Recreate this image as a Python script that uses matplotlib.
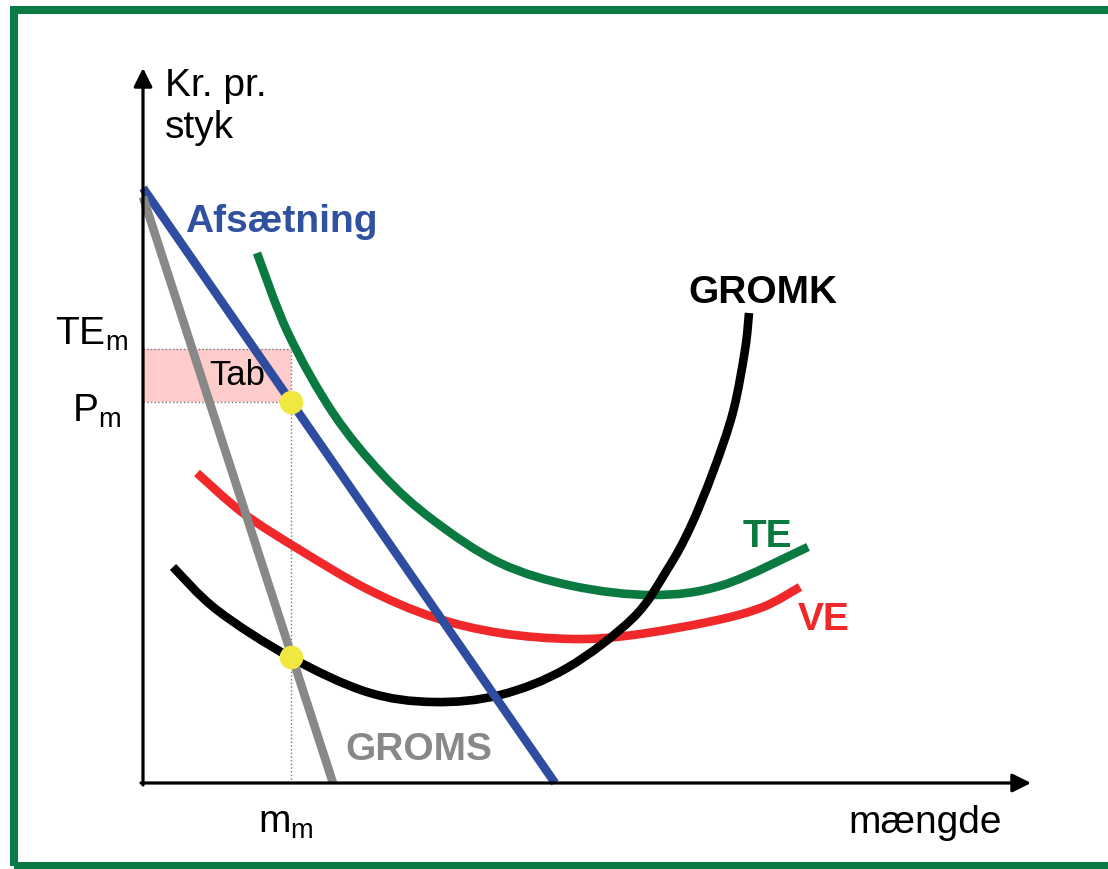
import matplotlib.pyplot as plt
from matplotlib.path import Path
from matplotlib.patches import PathPatch, Rectangle
import numpy as np

plt.rcParams['font.family'] = ['Liberation Sans', 'DejaVu Sans']
plt.rcParams['mathtext.fontset'] = 'custom'
plt.rcParams['mathtext.rm'] = 'Liberation Sans'
plt.rcParams['mathtext.it'] = 'Liberation Sans'

# curves (quantity, kr. pr. styk)
te_x = [1.14, 1.45, 1.90, 2.40, 2.90, 3.57, 4.30, 5.10, 5.80, 6.65]
te_y = [5.30, 4.50, 3.70, 3.08, 2.63, 2.20, 1.97, 1.88, 1.98, 2.36]

ve_x = [0.54, 1.00, 1.57, 2.24, 2.90, 3.57, 4.30, 4.90, 5.70, 6.20, 6.57]
ve_y = [3.10, 2.70, 2.33, 1.94, 1.66, 1.50, 1.44, 1.48, 1.62, 1.76, 1.96]

gromk_x = [0.30, 0.74, 1.47, 2.24, 2.90, 3.57, 4.24, 4.90, 5.24, 5.47, 5.70, 5.90, 6.02, 6.06]
gromk_y = [2.16, 1.73, 1.26, 0.91, 0.81, 0.88, 1.15, 1.65, 2.13, 2.55, 3.11, 3.71, 4.33, 4.70]

afs_x = [0.0, 4.12]
afs_y = [5.95, 0.0]

groms_x = [0.0, 1.90]
groms_y = [5.86, 0.0]

m_m = 1.48
p_m = 3.81
te_m = 4.34
gromk_m = 1.26


def smooth(xs, ys):
    # catmull-rom -> cubic bezier, only for drawing
    pts = np.column_stack([xs, ys])
    verts = [pts[0]]
    codes = [Path.MOVETO]
    for i in range(len(pts) - 1):
        p0 = pts[i - 1] if i > 0 else pts[i]
        p1 = pts[i]
        p2 = pts[i + 1]
        p3 = pts[i + 2] if i + 2 < len(pts) else pts[i + 1]
        c1 = p1 + (p2 - p0) / 6
        c2 = p2 - (p3 - p1) / 6
        verts += [c1, c2, p2]
        codes += [Path.CURVE4] * 3
    return Path(verts, codes)


fig = plt.figure(figsize=(11.08, 8.69), dpi=100)
ax = fig.add_axes([0, 0, 1, 1])
ax.set_xlim(-1.43, 9.65)
ax.set_ylim(-0.86, 7.83)
ax.axis('off')

# frame
ax.add_patch(Rectangle((-1.29, -0.83), 11.5, 8.56, fill=False,
                       edgecolor='#0B7A45', lw=5.8, clip_on=False))

# tab
ax.add_patch(Rectangle((0, p_m), m_m, te_m - p_m, facecolor='#FFCCCC',
                       edgecolor='none', zorder=1))
ax.plot([0, m_m], [te_m, te_m], ls=':', color='#777777', lw=1, zorder=2)
ax.plot([0, m_m], [p_m, p_m], ls=':', color='#777777', lw=1, zorder=2)
ax.plot([m_m, m_m], [0, te_m], ls=':', color='#777777', lw=1, zorder=2)

lw = 6.2
ax.add_patch(PathPatch(smooth(te_x, te_y), fill=False, lw=lw, color='#0B7A40',
                       capstyle='butt', zorder=3))
ax.add_patch(PathPatch(smooth(ve_x, ve_y), fill=False, lw=lw, color='#F0282A',
                       capstyle='butt', zorder=3))
ax.add_patch(PathPatch(smooth(gromk_x, gromk_y), fill=False, lw=lw, color='black',
                       capstyle='butt', zorder=3))
ax.plot(afs_x, afs_y, color='#2E4DA0', lw=lw, solid_capstyle='butt', zorder=4)
ax.plot(groms_x, groms_y, color='#888888', lw=lw, solid_capstyle='butt', zorder=4)

# axes with arrows
ax.annotate('', xy=(0, 7.15), xytext=(0, -0.02),
            arrowprops=dict(arrowstyle='-|>', lw=2.3, color='black',
                            mutation_scale=28, shrinkA=0, shrinkB=0), zorder=5)
ax.annotate('', xy=(8.88, 0), xytext=(-0.02, 0),
            arrowprops=dict(arrowstyle='-|>', lw=2.3, color='black',
                            mutation_scale=28, shrinkA=0, shrinkB=0), zorder=5)

ax.plot([m_m, m_m], [p_m, gromk_m], 'o', color='#F0E840', markersize=17,
        markeredgecolor='none', zorder=6)

fs = 28
ax.text(0.22, 6.87, 'Kr. pr.', fontsize=fs, va='baseline')
ax.text(0.22, 6.45, 'styk', fontsize=fs, va='baseline')
ax.text(7.05, -0.50, 'mængde', fontsize=fs, va='baseline')
ax.text(1.15, -0.50, r'm$_\mathrm{m}$', fontsize=fs, va='baseline')
ax.text(-0.88, 4.38, r'TE$_\mathrm{m}$', fontsize=fs, va='baseline')
ax.text(-0.71, 3.61, r'P$_\mathrm{m}$', fontsize=fs, va='baseline')
ax.text(0.66, 3.98, 'Tab', fontsize=25, va='baseline', zorder=5)

ax.text(0.42, 5.51, 'Afsætning', fontsize=fs, fontweight='bold', color='#3050A0', va='baseline')
ax.text(5.45, 4.80, 'GROMK', fontsize=fs, fontweight='bold', color='black', va='baseline')
ax.text(6.00, 2.36, 'TE', fontsize=fs, fontweight='bold', color='#0B7A40', va='baseline')
ax.text(6.55, 1.53, 'VE', fontsize=fs, fontweight='bold', color='#F0282A', va='baseline')
ax.text(2.02, 0.23, 'GROMS', fontsize=fs, fontweight='bold', color='#888888', va='baseline')

fig.savefig('out.png', dpi=100)
